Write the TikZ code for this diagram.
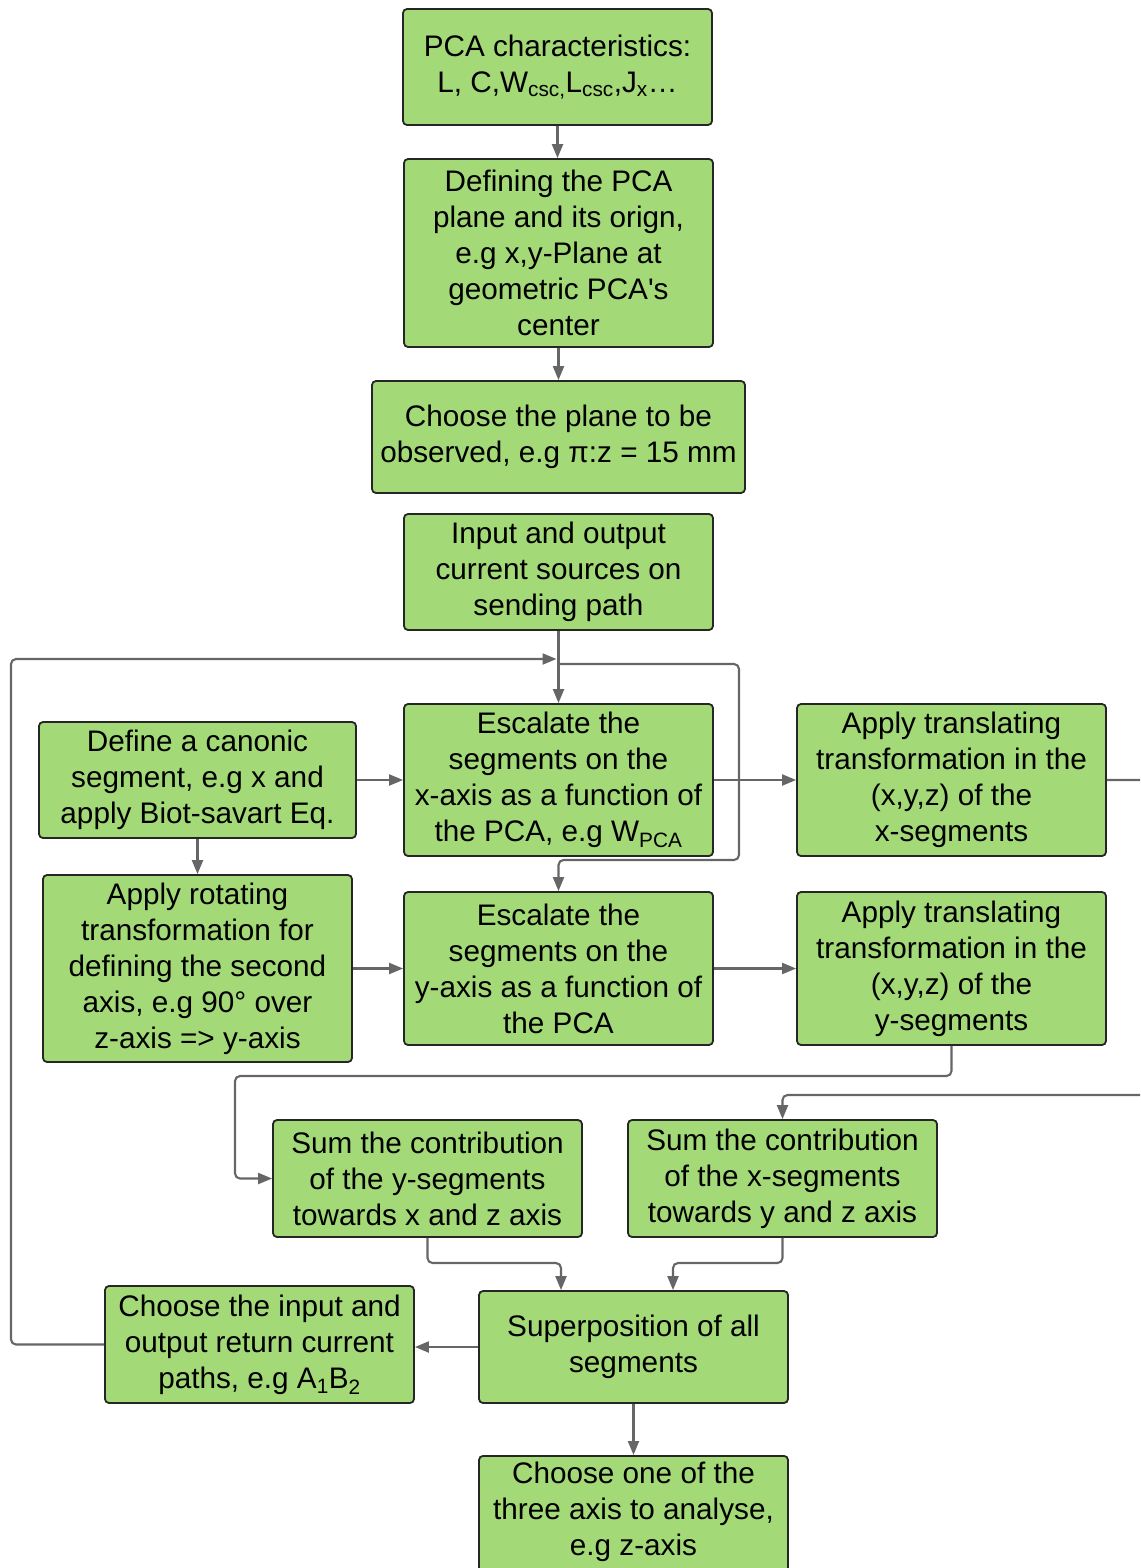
\documentclass[tikz,border=0pt]{standalone}
\usepackage{fontspec}
\setmainfont{Liberation Sans}[Ligatures=TeXOff]
\usetikzlibrary{arrows.meta}
\definecolor{boxgreen}{HTML}{A3D977}
\definecolor{boxline}{HTML}{262626}
\definecolor{wire}{HTML}{666666}

\begin{document}
\begin{tikzpicture}[x=1pt,y=-1pt,
  stepbox/.style={draw=boxline, line width=1.8pt, fill=boxgreen, rounded corners=4pt,
    align=center, inner sep=0pt, font=\fontsize{29.7}{36}\selectfont},
  boxtext/.style={align=center, inner sep=0pt, font=\fontsize{29.7}{36}\selectfont},
  flow/.style={draw=wire, line width=2.1pt, rounded corners=5pt,
    -{Triangle[length=14pt,width=11pt]}},
  plain/.style={draw=wire, line width=2.1pt, rounded corners=5pt}]
\useasboundingbox (0,0) rectangle (1140,1568);
\clip (0,0) rectangle (1140,1568);

% main column
\node[stepbox, minimum width=309, minimum height=116] (pca) at (557.5,67)
  {PCA characteristics:\\ L, C,W\textsubscript{csc,}L\textsubscript{csc},J\textsubscript{x}…};
\node[stepbox, minimum width=309, minimum height=188] (def) at (558.5,253)
  {Defining the PCA\\ plane and its orign,\\ e.g x,y-Plane at\\ geometric PCA's\\ center};
\node[stepbox, minimum width=373, minimum height=112] (plane) at (558.5,437)
  {Choose the plane to be\\ observed, e.g π:z = 15 mm};
\node[stepbox, minimum width=309, minimum height=116] (inout) at (558.5,572)
  {Input and output\\ current sources on\\ sending path};

% segment rows
\node[stepbox, minimum width=317, minimum height=116] (canon) at (197.5,780)
  {Define a canonic\\ segment, e.g x and\\ apply Biot-savart Eq.};
\node[stepbox, minimum width=309, minimum height=152] (escx) at (558.5,780)
  {Escalate the\\ segments on the\\ x-axis as a function of\\ the PCA, e.g W\textsubscript{PCA}};
\node[stepbox, minimum width=309, minimum height=152] (transx) at (951.5,780)
  {Apply translating\\ transformation in the\\ (x,y,z) of the\\ x-segments};
\node[stepbox, minimum width=309, minimum height=187] (rot) at (197.5,968.5)
  {Apply rotating\\ transformation for\\ defining the second\\ axis, e.g 90° over\\ z-axis => y-axis};
\node[stepbox, minimum width=309, minimum height=153] (escy) at (558.5,968.5)
  {Escalate the\\ segments on the\\ y-axis as a function of\\ the PCA};
\node[stepbox, minimum width=309, minimum height=153] (transy) at (951.5,968.5)
  {Apply translating\\ transformation in the\\ (x,y,z) of the\\ y-segments};

% summation and output
\node[stepbox, minimum width=309, minimum height=117] (sumy) at (427.5,1178.5)
  {Sum the contribution\\ of the y-segments\\ towards x and z axis};
\node[stepbox, minimum width=309, minimum height=117] (sumx) at (782.5,1178.5)
  {Sum the contribution\\ of the x-segments\\ towards y and z axis};
\node[stepbox, minimum width=309, minimum height=117] (ret) at (259.5,1344.5)
  {Choose the input and\\ output return current\\ paths, e.g A\textsubscript{1}B\textsubscript{2}};
\node[stepbox, minimum width=309, minimum height=112] (sup) at (633.5,1347)
  {Superposition of all\\ segments};
\node[stepbox, minimum width=309, minimum height=140, anchor=north] (axis) at (633.5,1455) {};
\node[boxtext] (axistext) at (633.5,1512)
  {Choose one of the\\ three axis to analyse,\\ e.g z-axis};

% connectors
\draw[flow] (pca.south) -- (pca.south |- def.north);
\draw[flow] (def.south) -- (def.south |- plane.north);
\draw[flow] (inout.south) -- (escx.north);
\draw[flow] (canon.east) -- (escx.west);
\draw[flow] (canon.south) -- (rot.north);
\draw[flow] (rot.east) -- (rot.east -| escy.west);
\draw[flow] (escx.east) -- (transx.west);
\draw[flow] (escy.east) -- (transy.west);

\coordinate (ybend) at (235,1076);
\draw[flow] (transy.south) |- (ybend) |- (sumy.west);

\coordinate (xbend) at (1170,1095);
\draw[flow] (transx.east) -| (xbend) -| (sumx.north);

\draw[flow] (sumy.south) |- (561,1263) -- ([xshift=-72.5pt]sup.north);
\draw[flow] (sumx.south) |- (673,1263) -- ([xshift=39.5pt]sup.north);

\draw[flow] (sup.west) -- (sup.west -| ret.east);
\draw[flow] (sup.south) -- (axis.north);

% return loop and branch to the y row
\coordinate (loopend) at (556.5,659);
\draw[flow] (ret.west) -| (11,659) -- (loopend);
\coordinate (branch) at (558.5,664);
\draw[flow] (branch) -| (739,860) -| (escy.north);
\end{tikzpicture}
\end{document}
